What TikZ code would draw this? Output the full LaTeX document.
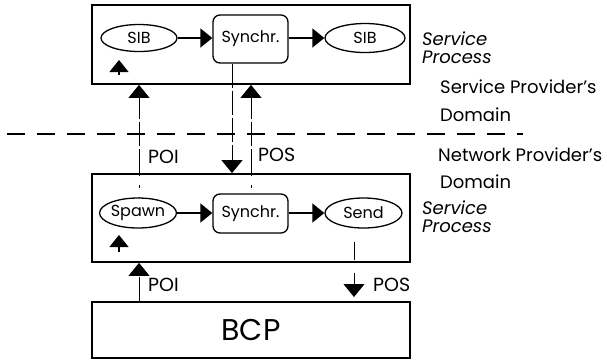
\documentclass[tikz,border=0pt]{standalone}
\usepackage{fontspec}
\setmainfont{Poppins}
\usetikzlibrary{arrows.meta,shapes.geometric}

\newcommand{\fs}[1]{\fontsize{#1}{#1}\selectfont}

\begin{document}
\begin{tikzpicture}[x=1pt,y=-1pt,
  frame/.style={draw,line width=1.8pt,inner sep=0pt},
  proc/.style={draw,ellipse,line width=1.3pt,inner sep=0pt,font=\fs{16}},
  sync/.style={draw,line width=1.3pt,rounded corners=7pt,inner sep=0pt,font=\fs{16}},
  flow/.style={line width=1.3pt,-{Triangle[width=19pt,length=12pt]}},
  iface/.style={line width=0.7pt,dash pattern=on 24pt off 3pt,-{Triangle[width=21pt,length=13pt]}},
  trace/.style={line width=0.5pt,dash pattern=on 3pt off 9pt},
  lbl/.style={font=\fs{19},anchor=west,inner sep=0pt},
  note/.style={font=\fs{18}\itshape,anchor=west,inner sep=0pt},
  dlabel/.style={font=\fs{18},anchor=west,inner sep=0pt},
  border/.style={line width=1.2pt,dash pattern=on 18pt off 12pt}]

\useasboundingbox (0,0) rectangle (607,360);

% service process, service provider's domain
\node[frame,minimum width=318pt,minimum height=79pt] (upper) at (251,44.5) {};
\node[proc,minimum width=76pt,minimum height=27pt] (sib1) at (139,38) {SIB};
\node[sync,minimum width=75pt,minimum height=48pt] (syn1) at (250.5,39) {Synchr.};
\node[proc,minimum width=80pt,minimum height=29pt] (sib2) at (365,38) {SIB};
\draw[flow] (sib1.east) -- (syn1.west |- sib1.east);
\draw[flow] (syn1.east |- sib2.west) -- (sib2.west);
\coordinate (in1) at (119,75);
\coordinate (in1t) at (119,60);
\draw[flow] (in1) -- (in1t);

% service process, network provider's domain
\node[frame,minimum width=318pt,minimum height=88pt] (lower) at (251,218) {};
\node[proc,minimum width=74pt,minimum height=30pt] (spawn) at (138,213) {Spawn};
\node[sync,minimum width=75pt,minimum height=39pt] (syn2) at (250.5,213.5) {Synchr.};
\node[proc,minimum width=77pt,minimum height=30pt] (send) at (363.5,213) {Send};
\draw[flow] (spawn.east) -- (syn2.west |- spawn.east);
\draw[flow] (syn2.east |- send.west) -- (send.west);
\coordinate (in2) at (119,252);
\coordinate (in2t) at (119,235);
\draw[flow] (in2) -- (in2t);

% basic call process
\node[frame,minimum width=318pt,minimum height=56pt,font=\fs{30}] (bcp) at (251,330) {BCP};

% domain border
\coordinate (bl) at (7,134);
\coordinate (br) at (523,134);
\draw[border] (bl) -- (br);

% points of initiation and points of return
\coordinate (poi) at (139,0);
\coordinate (pos) at (251,0);
\coordinate (ret) at (232,0);
\draw[iface] (lower.north -| poi) -- (upper.south -| poi);
\draw[iface] (lower.north -| pos) -- (upper.south -| pos);
\draw[iface] (syn1.south -| ret) -- (lower.north -| ret);
\draw[trace] (lower.north -| poi) -- (spawn.north -| poi);
\draw[trace] (lower.north -| pos) -- (syn2.north -| pos);
\draw[iface] (bcp.north -| poi) -- (lower.south -| poi);

\coordinate (sx) at (354,242);
\coordinate (sy) at (354,260);
\draw[line width=0.8pt] (sx) -- (sy);
\coordinate (px) at (354,273);
\coordinate (py) at (354,297);
\draw[line width=0.8pt,-{Triangle[width=21pt,length=13pt]}] (px) -- (py);

\node[lbl] (poi1) at (148,157) {POI};
\node[lbl] (pos1) at (258,155) {POS};
\node[lbl] (poi2) at (148,285) {POI};
\node[lbl] (pos2) at (373,285) {POS};

% side notes
\node[note] (sp1a) at (422,39) {Service};
\node[note] (sp1b) at (422,57) {Process};
\node[dlabel] (spd) at (440,87) {Service Provider's};
\node[dlabel] (spd2) at (440,115) {Domain};
\node[dlabel] (npd) at (438,155) {Network Provider's};
\node[dlabel] (npd2) at (440,182) {Domain};
\node[note] (sp2a) at (422,208) {Service};
\node[note] (sp2b) at (422,226) {Process};
\end{tikzpicture}
\end{document}
